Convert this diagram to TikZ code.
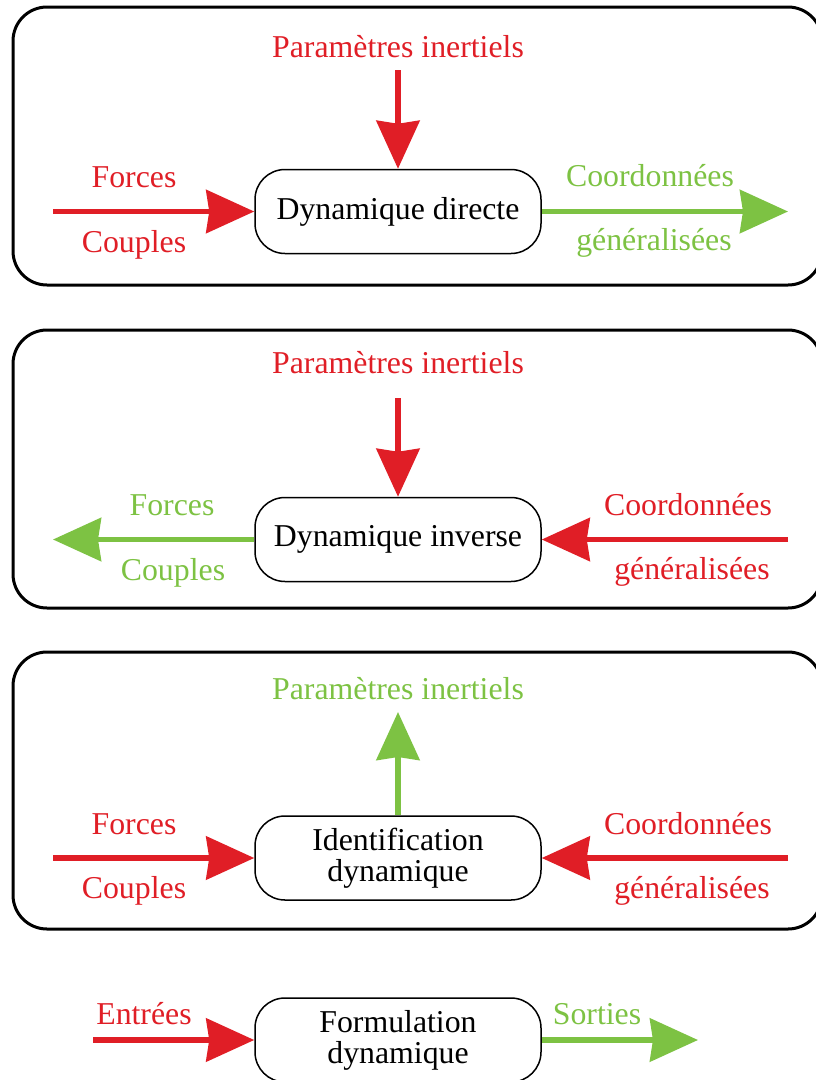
\documentclass[tikz,border=0pt]{standalone}
\usepackage{fontspec}
\setmainfont{Liberation Serif}
\usetikzlibrary{arrows.meta}
\definecolor{inred}{RGB}{224,30,38}
\definecolor{outgreen}{RGB}{125,194,67}
\tikzset{
  frame/.style={draw=black, line width=3pt, rounded corners=34pt},
  procbox/.style={draw=black, line width=1.5pt, rounded corners=30pt, fill=white,
    minimum width=286pt, minimum height=84pt, inner sep=0pt, align=center,
    font=\fontsize{31.8}{31}\selectfont},
  lbl/.style={anchor=base, inner sep=0pt, font=\fontsize{31.8}{31}\selectfont},
  flow/.style={line width=5.5pt, -{Stealth[length=48pt, width=43pt, inset=3pt]}},
  redflow/.style={flow, draw=inred},
  greenflow/.style={flow, draw=outgreen},
}
\begin{document}
\begin{tikzpicture}[x=1pt, y=-1pt]
\useasboundingbox (0,0) rectangle (816,1080);
\clip (0,0) rectangle (816,1080);

% outer frames
\draw[frame] (13,7) rectangle (822,285);
\draw[frame] (13,330) rectangle (822,608);
\draw[frame] (13,652) rectangle (822,929);

% ---- direct dynamics
\node[procbox] (dd) at (398,211.5) {Dynamique directe};
\coordinate (ddin) at (53,211.5);
\coordinate (ddout) at (788,211.5);
\coordinate (ddtop) at (398,70);
\draw[redflow] (ddin) -- (dd.west);
\draw[greenflow] (dd.east) -- (ddout);
\draw[redflow] (ddtop) -- (dd.north);
\node[lbl, text=inred] (ddp) at (398,57) {Paramètres inertiels};
\node[lbl, text=inred] (ddf) at (134,187) {Forces};
\node[lbl, text=inred] (ddc) at (134,252) {Couples};
\node[lbl, text=outgreen] (ddq1) at (650,186) {Coordonnées};
\node[lbl, text=outgreen] (ddq2) at (654,250) {généralisées};

% ---- inverse dynamics
\node[procbox] (di) at (398,539.5) {Dynamique inverse};
\coordinate (diout) at (53,539.5);
\coordinate (diin) at (788,539.5);
\coordinate (ditop) at (398,398);
\draw[greenflow] (di.west) -- (diout);
\draw[redflow] (diin) -- (di.east);
\draw[redflow] (ditop) -- (di.north);
\node[lbl, text=inred] (dip) at (398,373) {Paramètres inertiels};
\node[lbl, text=outgreen] (dif) at (172,515) {Forces};
\node[lbl, text=outgreen] (dic) at (173,580) {Couples};
\node[lbl, text=inred] (diq1) at (688,515) {Coordonnées};
\node[lbl, text=inred] (diq2) at (692,579) {généralisées};

% ---- dynamic identification
\node[procbox] (id) at (398,858) {Identification\\dynamique};
\coordinate (idin) at (53,858);
\coordinate (idin2) at (788,858);
\coordinate (idtop) at (398,712);
\draw[redflow] (idin) -- (id.west);
\draw[redflow] (idin2) -- (id.east);
\draw[greenflow] (id.north) -- (idtop);
\node[lbl, text=outgreen] (idp) at (398,699) {Paramètres inertiels};
\node[lbl, text=inred] (idf) at (134,834) {Forces};
\node[lbl, text=inred] (idc) at (134,898) {Couples};
\node[lbl, text=inred] (idq1) at (688,834) {Coordonnées};
\node[lbl, text=inred] (idq2) at (692,898) {généralisées};

% ---- general formulation
\node[procbox] (fd) at (398,1040) {Formulation\\dynamique};
\coordinate (fdin) at (93,1040);
\coordinate (fdout) at (698,1040);
\draw[redflow] (fdin) -- (fd.west);
\draw[greenflow] (fd.east) -- (fdout);
\node[lbl, text=inred] (fde) at (144,1024) {Entrées};
\node[lbl, text=outgreen] (fds) at (597,1024) {Sorties};
\end{tikzpicture}
\end{document}
